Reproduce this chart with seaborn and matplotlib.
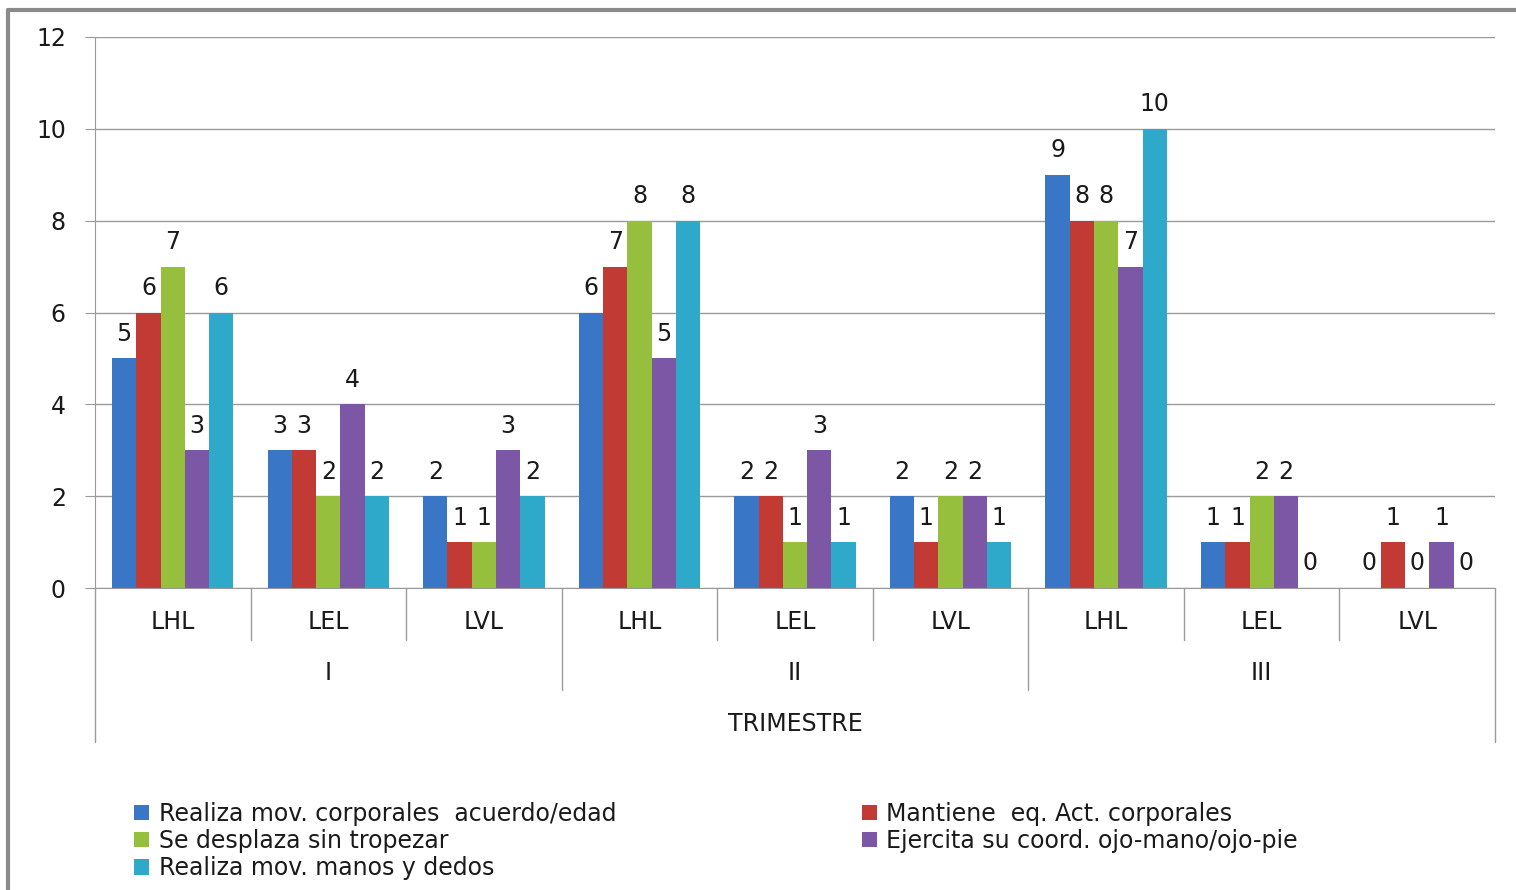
import matplotlib
matplotlib.use("Agg")
import matplotlib.pyplot as plt
import matplotlib.transforms as mtransforms
from matplotlib.lines import Line2D
import pandas as pd
import seaborn as sns

trimestres = ["I", "II", "III"]
niveles = ["LHL", "LEL", "LVL"]
series = [
    "Realiza mov. corporales  acuerdo/edad",
    "Mantiene  eq. Act. corporales",
    "Se desplaza sin tropezar",
    "Ejercita su coord. ojo-mano/ojo-pie",
    "Realiza mov. manos y dedos",
]
colores = ["#3A76C6", "#C23A34", "#95BF3D", "#7B57A6", "#2FA9C9"]

# values per group: I-LHL, I-LEL, I-LVL, II-LHL, ... III-LVL
realiza_corporales = [5, 3, 2, 6, 2, 2, 9, 1, 0]
mantiene_eq = [6, 3, 1, 7, 2, 1, 8, 1, 1]
se_desplaza = [7, 2, 1, 8, 1, 2, 8, 2, 0]
ejercita_coord = [3, 4, 3, 5, 3, 2, 7, 2, 1]
realiza_manos = [6, 2, 2, 8, 1, 1, 10, 0, 0]

grupos = [f"{t}-{n}" for t in trimestres for n in niveles]
valores = [realiza_corporales, mantiene_eq, se_desplaza, ejercita_coord, realiza_manos]

rows = []
for s, vals in zip(series, valores):
    for g, v in zip(grupos, vals):
        rows.append({"grupo": g, "serie": s, "valor": v})
df = pd.DataFrame(rows)

sns.set_style("white")
plt.rcParams["font.family"] = ["DejaVu Sans"]
txt = "#1a1a1a"
gris = "#9a9a9a"
fs = 17

W, H = 1516, 890
fig = plt.figure(figsize=(W / 100, H / 100), dpi=100)
ax = fig.add_axes([95 / W, 1 - 588 / H, 1400 / W, 551 / H])

sns.barplot(data=df, x="grupo", y="valor", hue="serie", order=grupos,
            hue_order=series, palette=colores, width=0.78, saturation=1,
            edgecolor="none", legend=False, ax=ax)

for cont in ax.containers:
    ax.bar_label(cont, fmt="%d", padding=9, fontsize=fs, color=txt)

ax.set_ylim(0, 12)
ax.set_yticks(range(0, 13, 2))
ax.set_xlim(-0.5, len(grupos) - 0.5)
ax.yaxis.grid(True, color=gris, linewidth=1)
ax.set_axisbelow(True)
for sp in ["top", "right"]:
    ax.spines[sp].set_visible(False)
ax.spines["left"].set_color(gris)
ax.spines["bottom"].set_color(gris)
ax.tick_params(axis="y", direction="out", length=7, color=gris, pad=14,
               labelsize=fs, labelcolor=txt, left=True)
ax.tick_params(axis="x", length=0, labelbottom=False)
ax.set_xlabel("")
ax.set_ylabel("")

# multi-level category axis
trans = mtransforms.blended_transform_factory(ax.transData, ax.transAxes)
for k in range(len(grupos) + 1):
    x = k - 0.5
    if k in (0, len(grupos)):
        y0 = -0.28
    elif k % 3 == 0:
        y0 = -0.185
    else:
        y0 = -0.094
    ax.add_line(Line2D([x, x], [0, y0], transform=trans, color=gris,
                       linewidth=1, clip_on=False))
for i, g in enumerate(grupos):
    ax.text(i, -0.0617, g.split("-")[1], transform=trans, ha="center",
            va="center", fontsize=fs, color=txt)
for j, t in enumerate(trimestres):
    ax.text(3 * j + 1, -0.154, t, transform=trans, ha="center",
            va="center", fontsize=fs, color=txt)
ax.text((len(grupos) - 1) / 2, -0.247, "TRIMESTRE", transform=trans,
        ha="center", va="center", fontsize=fs, color=txt)

# legend: column-wise like the original
orden = [0, 2, 4, 1, 3]
fig.legend([ax.containers[i] for i in orden], [series[i] for i in orden],
           ncol=2, loc="upper left", bbox_to_anchor=(122 / W, 1 - 790 / H),
           frameon=False, fontsize=fs, handlelength=0.65, handleheight=0.65,
           handletextpad=0.4, columnspacing=10.4, labelspacing=0.13,
           borderpad=0, labelcolor=txt)

# outer chart border (top and left visible)
fig.add_artist(Line2D([8 / W, 8 / W], [0, 1 - 10 / H], transform=fig.transFigure,
                      color="#8a8a8a", linewidth=3))
fig.add_artist(Line2D([8 / W, 1], [1 - 10 / H, 1 - 10 / H], transform=fig.transFigure,
                      color="#8a8a8a", linewidth=3))

fig.savefig("out.png", dpi=100)
